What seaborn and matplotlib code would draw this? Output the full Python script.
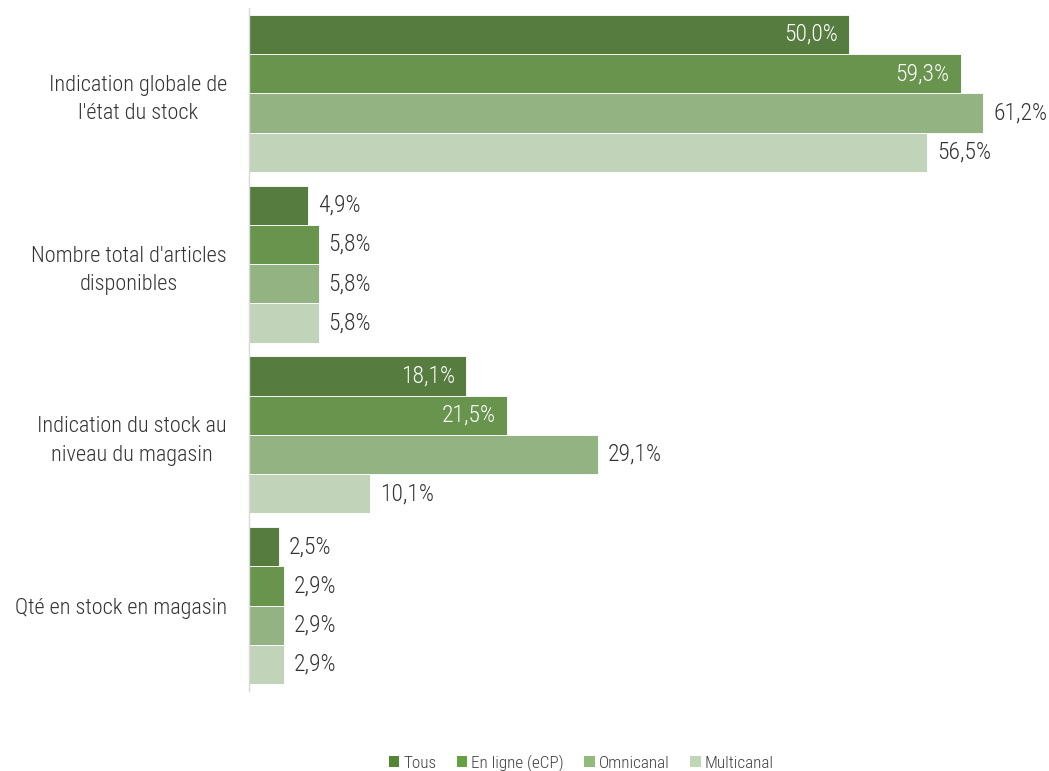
import matplotlib
matplotlib.use("Agg")
import matplotlib.pyplot as plt
from matplotlib import font_manager
from matplotlib.patches import Patch
import seaborn as sns
import pandas as pd

categories = [
    "Indication globale de\nl'état du stock",
    "Nombre total d'articles\ndisponibles",
    "Indication du stock au\nniveau du magasin",
    "Qté en stock en magasin",
]
series = ["Tous", "En ligne (eCP)", "Omnicanal", "Multicanal"]
tous = [50.0, 4.9, 18.1, 2.5]
en_ligne = [59.3, 5.8, 21.5, 2.9]
omnicanal = [61.2, 5.8, 29.1, 2.9]
multicanal = [56.5, 5.8, 10.1, 2.9]

colors = ["#558636", "#65A042", "#92BB7B", "#BFD7B5"]

rows = []
for s, vals in zip(series, [tous, en_ligne, omnicanal, multicanal]):
    for c, v in zip(categories, vals):
        rows.append({"cat": c, "serie": s, "val": v})
df = pd.DataFrame(rows)

sns.set_theme(style="white")
installed = {f.name for f in font_manager.fontManager.ttflist}
family = [f for f in ["Roboto Condensed", "Liberation Sans Narrow", "Roboto", "DejaVu Sans"] if f in installed]
plt.rcParams["font.family"] = family + ["DejaVu Sans"]
plt.rcParams["font.weight"] = "light"

fig = plt.figure(figsize=(10.49, 7.71), dpi=100)
ax = fig.add_axes([249 / 1049, 1 - 691 / 771, (1035 - 249) / 1049, (691 - 8) / 771])

sns.barplot(data=df, y="cat", x="val", hue="serie", order=categories, hue_order=series,
            palette=colors, width=0.92, orient="h", ax=ax, legend=False,
            edgecolor="white", linewidth=0.6)

ax.set_xlim(0, 65.5)
ax.set_ylim(3.5, -0.5)
ax.set_xlabel("")
ax.set_ylabel("")
ax.set_xticks([])
for side in ["top", "right", "bottom"]:
    ax.spines[side].set_visible(False)
ax.spines["left"].set_color("#d9d9d9")
ax.spines["left"].set_linewidth(1.0)
ax.tick_params(axis="y", length=0, pad=16)
for lbl in ax.get_yticklabels():
    lbl.set_fontsize(16)
    lbl.set_fontweight("light")
    lbl.set_color("#333333")
    lbl.set_multialignment("center")
    lbl.set_linespacing(1.45)

# one data unit spans about 12 px on this axis
px = 65.5 / (1035 - 249)
text_color = "#333333"
for i, cont in enumerate(ax.containers):
    for bar in cont:
        w = bar.get_width()
        yc = bar.get_y() + bar.get_height() / 2
        label = f"{w:.1f}".replace(".", ",") + "%"
        if i < 2 and w > 15:
            ax.text(w - 11 * px, yc, label, ha="right", va="center", color="white",
                    fontsize=17, fontweight="light")
        else:
            ax.text(w + 10 * px, yc, label, ha="left", va="center", color=text_color,
                    fontsize=17, fontweight="light")

handles = [Patch(facecolor=c, edgecolor="none", label=s) for c, s in zip(colors, series)]
fig.legend(handles=handles, loc="center", bbox_to_anchor=(581 / 1049, 1 - 763 / 771), ncol=4,
           frameon=False, prop={"size": 12.3, "weight": "light"}, handlelength=0.64,
           handleheight=0.64, handletextpad=0.23, columnspacing=1.17, labelcolor="#404040",
           borderpad=0.2)

fig.savefig("out.png", dpi=100)
